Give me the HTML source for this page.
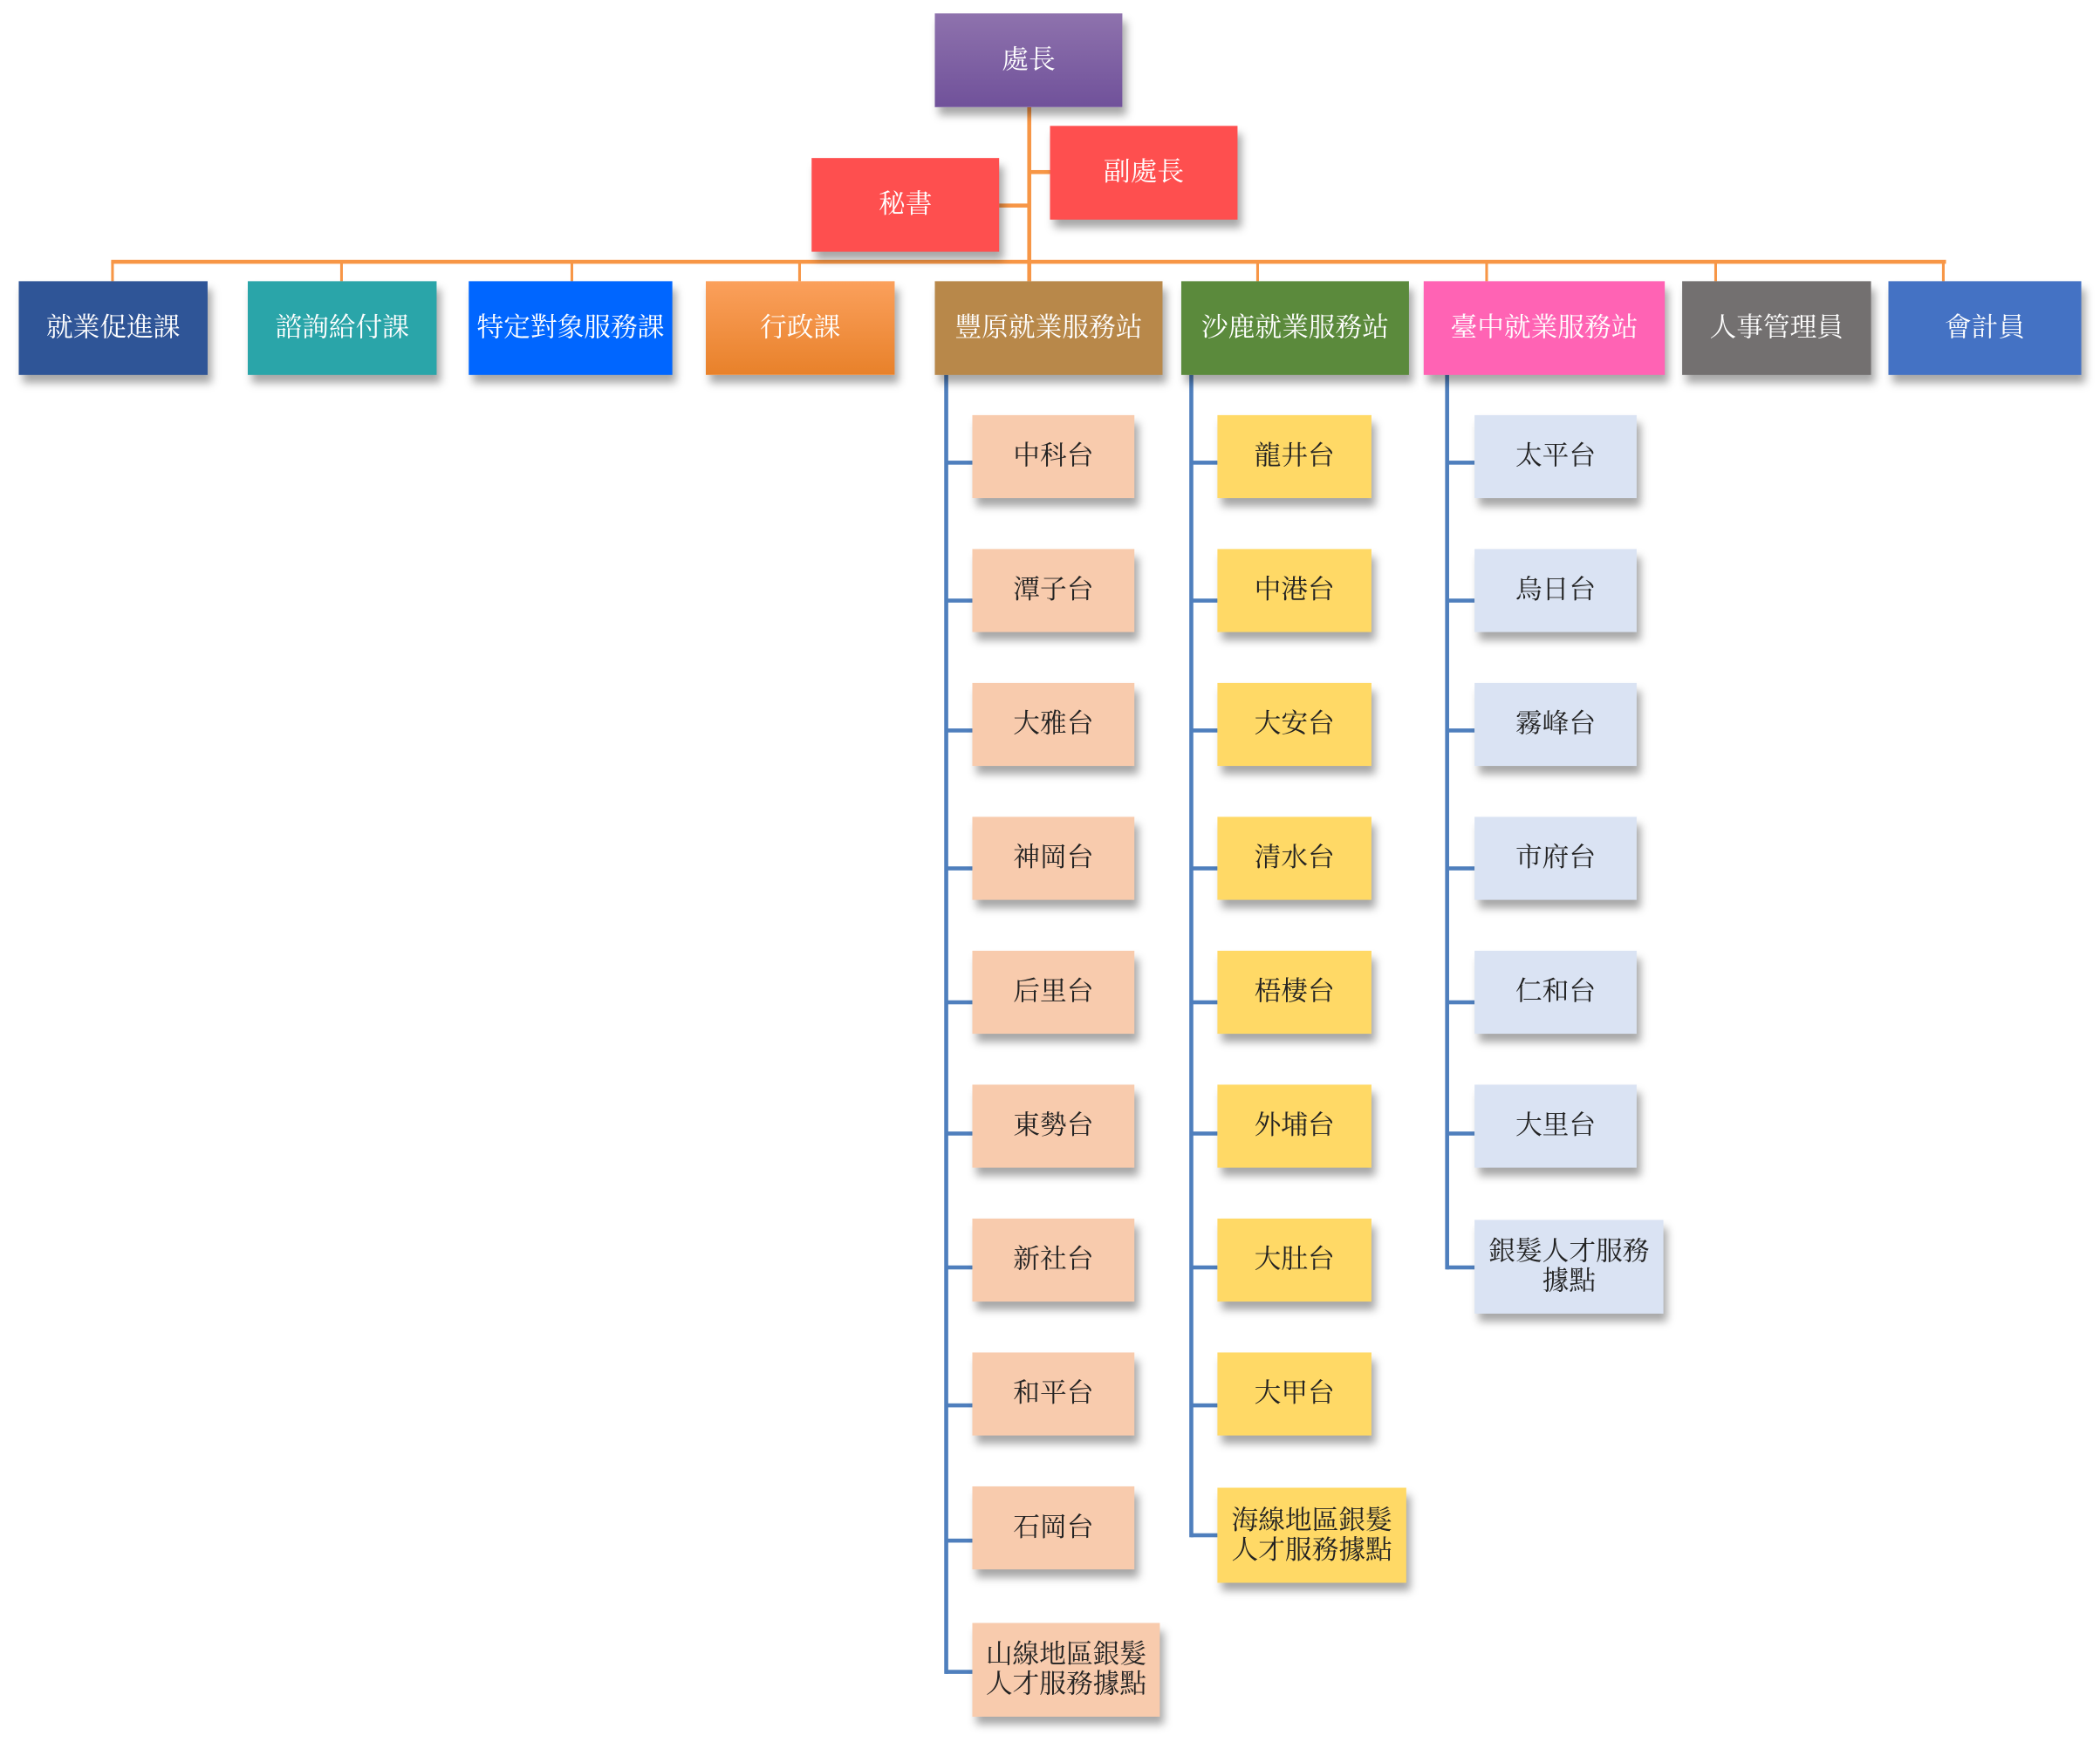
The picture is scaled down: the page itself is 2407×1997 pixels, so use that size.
<!DOCTYPE html>
<html><head><meta charset="utf-8"><style>
html,body{margin:0;padding:0;background:#fff;}
body{width:2407px;height:1997px;overflow:hidden;position:relative;}
#c{position:absolute;left:0;top:0;width:1568px;height:1301px;transform:scale(1.5351);transform-origin:0 0;}
.b{position:absolute;display:flex;align-items:center;justify-content:center;text-align:center;font-family:"Liberation Serif","Noto Serif CJK SC",serif;font-size:20px;line-height:22px;box-shadow:3px 6px 6px rgba(0,0,0,0.35);}
.w{color:#fff;}
.k{color:#222;}
.l{position:absolute;}
.o{background:#f79646;}
.bl{background:#4f7fbd;}
.p{background:#f8cbad;}
.y{background:#ffd966;}
.g{background:#dae3f3;}
</style></head><body><div id="c">
<!-- orange lines -->
<div class="l o" style="left:767px;top:80px;width:3px;height:130px"></div>
<div class="l o" style="left:768px;top:127px;width:16px;height:3px"></div>
<div class="l o" style="left:746px;top:152px;width:22px;height:3px"></div>
<div class="l o" style="left:83px;top:194px;width:1370px;height:3px"></div>
<div class="l o" style="left:83px;top:195px;width:2px;height:15px"></div>
<div class="l o" style="left:254px;top:195px;width:2px;height:15px"></div>
<div class="l o" style="left:426px;top:195px;width:2px;height:15px"></div>
<div class="l o" style="left:596px;top:195px;width:2px;height:15px"></div>
<div class="l o" style="left:938px;top:195px;width:2px;height:15px"></div>
<div class="l o" style="left:1109px;top:195px;width:2px;height:15px"></div>
<div class="l o" style="left:1280px;top:195px;width:2px;height:15px"></div>
<div class="l o" style="left:1450px;top:195px;width:2px;height:15px"></div>
<!-- blue lines -->
<div class="l bl" style="left:705px;top:280px;width:3px;height:970px"></div>
<div class="l bl" style="left:888px;top:280px;width:3px;height:868px"></div>
<div class="l bl" style="left:1079px;top:280px;width:3px;height:668px"></div>
<!-- top boxes -->
<div class="b w" style="left:698px;top:10px;width:140px;height:70px;background:linear-gradient(#8e72ad,#70519a)">處長</div>
<div class="b w" style="left:784px;top:94px;width:140px;height:70px;background:#fe4f4f">副處長</div>
<div class="b w" style="left:606px;top:118px;width:140px;height:70px;background:#fe4f4f">秘書</div>
<div class="b w" style="left:14px;top:210px;width:141px;height:70px;background:#2f5597">就業促進課</div>
<div class="b w" style="left:185px;top:210px;width:141px;height:70px;background:#2aa5a9">諮詢給付課</div>
<div class="b w" style="left:350px;top:210px;width:152px;height:70px;background:#0066ff">特定對象服務課</div>
<div class="b w" style="left:527px;top:210px;width:141px;height:70px;background:linear-gradient(#fba05c,#e8812a)">行政課</div>
<div class="b w" style="left:698px;top:210px;width:170px;height:70px;background:#b8884a">豐原就業服務站</div>
<div class="b w" style="left:882px;top:210px;width:170px;height:70px;background:#5b8a3c">沙鹿就業服務站</div>
<div class="b w" style="left:1063px;top:210px;width:180px;height:70px;background:#ff63b4">臺中就業服務站</div>
<div class="b w" style="left:1256px;top:210px;width:141px;height:70px;background:#737070">人事管理員</div>
<div class="b w" style="left:1410px;top:210px;width:144px;height:70px;background:#4472c4">會計員</div>
<!-- 豐原 children -->
<div class="l bl" style="left:706px;top:344px;width:20px;height:3px"></div><div class="b k p" style="left:726px;top:310px;width:121px;height:62px">中科台</div>
<div class="l bl" style="left:706px;top:447px;width:20px;height:3px"></div><div class="b k p" style="left:726px;top:410px;width:121px;height:62px">潭子台</div>
<div class="l bl" style="left:706px;top:544px;width:20px;height:3px"></div><div class="b k p" style="left:726px;top:510px;width:121px;height:62px">大雅台</div>
<div class="l bl" style="left:706px;top:647px;width:20px;height:3px"></div><div class="b k p" style="left:726px;top:610px;width:121px;height:62px">神岡台</div>
<div class="l bl" style="left:706px;top:747px;width:20px;height:3px"></div><div class="b k p" style="left:726px;top:710px;width:121px;height:62px">后里台</div>
<div class="l bl" style="left:706px;top:845px;width:20px;height:3px"></div><div class="b k p" style="left:726px;top:810px;width:121px;height:62px">東勢台</div>
<div class="l bl" style="left:706px;top:945px;width:20px;height:3px"></div><div class="b k p" style="left:726px;top:910px;width:121px;height:62px">新社台</div>
<div class="l bl" style="left:706px;top:1048px;width:20px;height:3px"></div><div class="b k p" style="left:726px;top:1010px;width:121px;height:62px">和平台</div>
<div class="l bl" style="left:706px;top:1149px;width:20px;height:3px"></div><div class="b k p" style="left:726px;top:1110px;width:121px;height:62px">石岡台</div>
<div class="l bl" style="left:706px;top:1247px;width:20px;height:3px"></div><div class="b k p" style="left:726px;top:1212px;width:140px;height:70px">山線地區銀髮<br>人才服務據點</div>
<!-- 沙鹿 children -->
<div class="l bl" style="left:889px;top:344px;width:20px;height:3px"></div><div class="b k y" style="left:909px;top:310px;width:115px;height:62px">龍井台</div>
<div class="l bl" style="left:889px;top:447px;width:20px;height:3px"></div><div class="b k y" style="left:909px;top:410px;width:115px;height:62px">中港台</div>
<div class="l bl" style="left:889px;top:544px;width:20px;height:3px"></div><div class="b k y" style="left:909px;top:510px;width:115px;height:62px">大安台</div>
<div class="l bl" style="left:889px;top:647px;width:20px;height:3px"></div><div class="b k y" style="left:909px;top:610px;width:115px;height:62px">清水台</div>
<div class="l bl" style="left:889px;top:747px;width:20px;height:3px"></div><div class="b k y" style="left:909px;top:710px;width:115px;height:62px">梧棲台</div>
<div class="l bl" style="left:889px;top:845px;width:20px;height:3px"></div><div class="b k y" style="left:909px;top:810px;width:115px;height:62px">外埔台</div>
<div class="l bl" style="left:889px;top:945px;width:20px;height:3px"></div><div class="b k y" style="left:909px;top:910px;width:115px;height:62px">大肚台</div>
<div class="l bl" style="left:889px;top:1048px;width:20px;height:3px"></div><div class="b k y" style="left:909px;top:1010px;width:115px;height:62px">大甲台</div>
<div class="l bl" style="left:889px;top:1145px;width:20px;height:3px"></div><div class="b k y" style="left:909px;top:1111px;width:141px;height:71px">海線地區銀髮<br>人才服務據點</div>
<!-- 臺中 children -->
<div class="l bl" style="left:1080px;top:344px;width:21px;height:3px"></div><div class="b k g" style="left:1101px;top:310px;width:121px;height:62px">太平台</div>
<div class="l bl" style="left:1080px;top:447px;width:21px;height:3px"></div><div class="b k g" style="left:1101px;top:410px;width:121px;height:62px">烏日台</div>
<div class="l bl" style="left:1080px;top:544px;width:21px;height:3px"></div><div class="b k g" style="left:1101px;top:510px;width:121px;height:62px">霧峰台</div>
<div class="l bl" style="left:1080px;top:647px;width:21px;height:3px"></div><div class="b k g" style="left:1101px;top:610px;width:121px;height:62px">市府台</div>
<div class="l bl" style="left:1080px;top:747px;width:21px;height:3px"></div><div class="b k g" style="left:1101px;top:710px;width:121px;height:62px">仁和台</div>
<div class="l bl" style="left:1080px;top:845px;width:21px;height:3px"></div><div class="b k g" style="left:1101px;top:810px;width:121px;height:62px">大里台</div>
<div class="l bl" style="left:1080px;top:945px;width:21px;height:3px"></div><div class="b k g" style="left:1101px;top:911px;width:141px;height:70px">銀髮人才服務<br>據點</div>
</div></body></html>
